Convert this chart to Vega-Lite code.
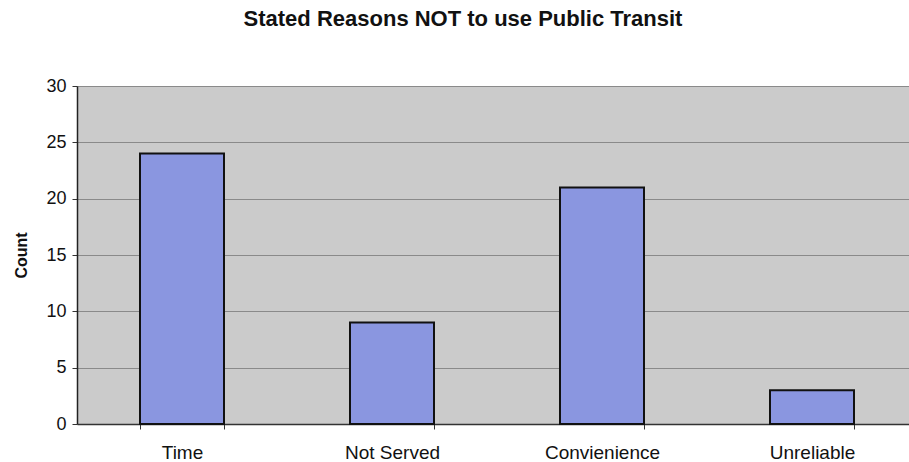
{
  "$schema": "https://vega.github.io/schema/vega-lite/v6.json",
  "autosize": "none",
  "padding": {"left": 77, "top": 86, "right": 0, "bottom": 38},
  "width": 840,
  "height": 338,
  "background": "white",
  "title": {
    "text": "Stated Reasons NOT to use Public Transit",
    "font": "Liberation Sans",
    "fontSize": 22,
    "fontWeight": "bold",
    "color": "#111111",
    "offset": 46,
    "dx": -34
  },
  "config": {
    "view": {"fill": "#cbcbcb", "stroke": null},
    "font": "Liberation Sans"
  },
  "data": {
    "values": [
      {"reason": "Time", "count": 24},
      {"reason": "Not Served", "count": 9},
      {"reason": "Convienience", "count": 21},
      {"reason": "Unreliable", "count": 3}
    ]
  },
  "mark": {"type": "bar", "fill": "#8a96e0", "stroke": "#111111", "strokeWidth": 2},
  "encoding": {
    "x": {
      "field": "reason",
      "type": "nominal",
      "sort": null,
      "scale": {"paddingInner": 0.6, "paddingOuter": 0.3},
      "axis": {
        "title": null,
        "labelAngle": 0,
        "labelFont": "Liberation Sans",
        "labelFontSize": 19,
        "labelColor": "#111111",
        "labelPadding": 14,
        "tickBand": "extent",
        "tickColor": "#333333",
        "tickSize": 5,
        "domainColor": "#333333",
        "domainWidth": 1.5,
        "grid": false
      }
    },
    "y": {
      "field": "count",
      "type": "quantitative",
      "scale": {"domain": [0, 30]},
      "axis": {
        "title": "Count",
        "titleFont": "Liberation Sans",
        "titleFontSize": 16,
        "titleFontWeight": "bold",
        "titleColor": "#111111",
        "titlePadding": 16,
        "values": [0, 5, 10, 15, 20, 25, 30],
        "labelFont": "Liberation Sans",
        "labelFontSize": 18,
        "labelColor": "#111111",
        "labelPadding": 6,
        "tickColor": "#333333",
        "tickSize": 5,
        "domainColor": "#222222",
        "domainWidth": 1.5,
        "grid": true,
        "gridColor": "#8a8a8a",
        "gridWidth": 1.2
      }
    }
  }
}
